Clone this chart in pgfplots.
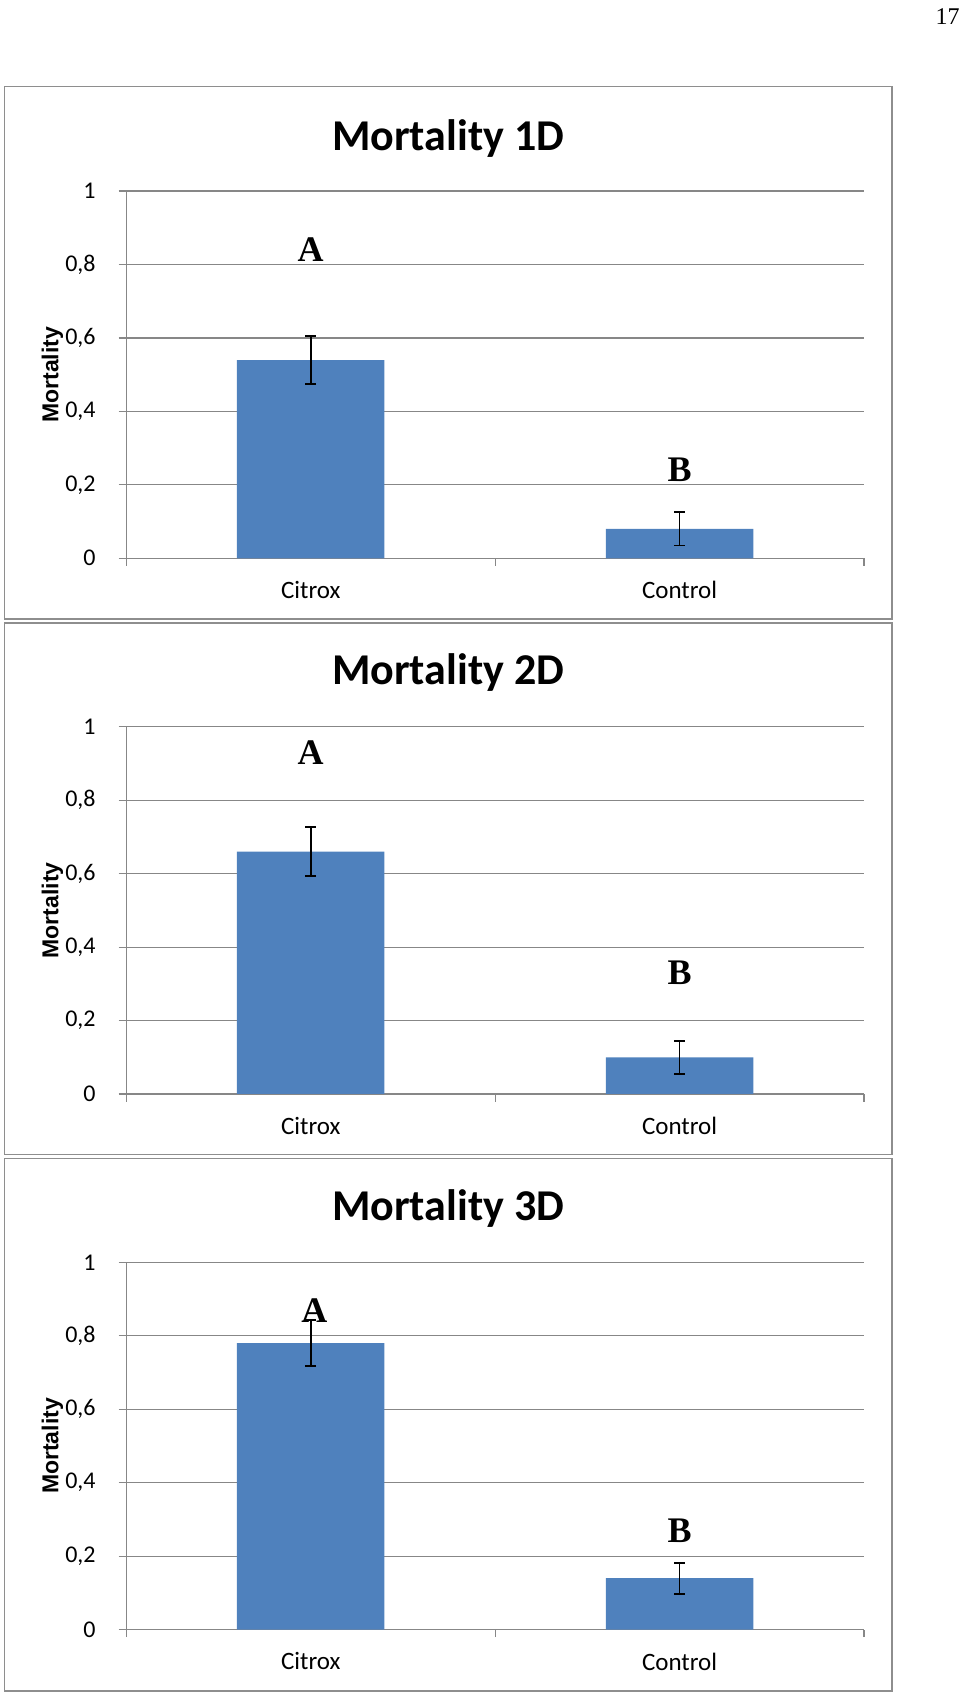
\documentclass[border=0pt]{standalone}
\usepackage{pgfplots}
\pgfplotsset{compat=1.18}
\usepackage{fontspec}
\setmainfont{Carlito}
\newfontfamily\timesf{Liberation Serif}
\newfontfamily\arialf{Liberation Sans}
\definecolor{barblue}{HTML}{4F81BD}
\definecolor{gridgray}{HTML}{878787}
\definecolor{framegray}{HTML}{8E8E8E}

\pgfplotsset{
  mort/.style={
    scale only axis, width=368.85pt, height=183.6pt,
    xmin=0, xmax=2, ymin=0, ymax=1,
    axis lines*=left,
    axis line style={gridgray, line width=0.6pt},
    ymajorgrids, grid style={gridgray, line width=0.6pt},
    tick align=outside, major tick length=3.8pt,
    tick style={gridgray, line width=0.6pt},
    ytick={0,0.2,0.4,0.6,0.8,1},
    yticklabels={0,{0,2},{0,4},{0,6},{0,8},1},
    yticklabel style={font=\fontsize{12}{12}\selectfont, xshift=-8pt},
    xtick={0,1,2}, xticklabels={},
    extra x ticks={0.5,1.5},
    extra x tick labels={Citrox,Control},
    extra x tick style={major tick length=0pt, grid=none,
      xticklabel style={font=\fontsize{12.5}{12.5}\selectfont, yshift=-8pt}},
    ylabel={Mortality},
    every axis y label/.style={at={(axis description cs:-0.1,0.5)}, rotate=90, anchor=center,
      font=\arialf\bfseries\fontsize{11.5}{11.5}\selectfont},
  },
  barplot/.style={ybar, bar width=0.4, fill=barblue, draw=none,
    error bars/.cd, y dir=both, y explicit,
    error bar style={black, line width=0.9pt},
    error mark options={black, rotate=90, mark size=2.7pt, line width=0.9pt}},
}
\tikzset{letter/.style={font=\timesf\bfseries\fontsize{18}{18}\selectfont}}

\begin{document}
\begin{tikzpicture}
\useasboundingbox (0pt,0pt) rectangle (480pt,846.5pt);
% page number
\node[anchor=north east, inner sep=0pt, font=\timesf\fontsize{12}{12}\selectfont] at (480pt,842.5pt) {17};
% panel frames
\draw[framegray, line width=0.8pt] (2.15pt,803.3pt) rectangle (446pt,537.1pt);
\draw[framegray, line width=0.8pt] (2.15pt,535pt) rectangle (446pt,269.3pt);
\draw[framegray, line width=0.8pt] (2.15pt,267.15pt) rectangle (446pt,1pt);
% titles
\node[font=\bfseries\fontsize{22}{22}\selectfont] at (224pt,777.3pt) {Mortality 1D};
\node[font=\bfseries\fontsize{22}{22}\selectfont] at (224pt,510pt) {Mortality 2D};
\node[font=\bfseries\fontsize{22}{22}\selectfont] at (224pt,242.2pt) {Mortality 3D};

% Panel 1
\begin{axis}[mort, at={(63.15pt,567.35pt)}, anchor=south west]
\addplot[barplot] coordinates {(0.5,0.54) +- (0,0.065) (1.5,0.08) +- (0,0.045)};
\node[letter] at (axis cs:0.5,0.84) {A};
\node[letter] at (axis cs:1.5,0.24) {B};
\end{axis}

% Panel 2
\begin{axis}[mort, at={(63.15pt,299.5pt)}, anchor=south west]
\addplot[barplot] coordinates {(0.5,0.66) +- (0,0.067) (1.5,0.10) +- (0,0.045)};
\node[letter] at (axis cs:0.5,0.929) {A};
\node[letter] at (axis cs:1.5,0.329) {B};
\end{axis}

% Panel 3
\begin{axis}[mort, at={(63.15pt,31.7pt)}, anchor=south west]
\addplot[barplot] coordinates {(0.5,0.78) +- (0,0.063) (1.5,0.14) +- (0,0.042)};
\node[letter] at (axis cs:0.51,0.87) {A};
\node[letter] at (axis cs:1.5,0.27) {B};
\end{axis}
\end{tikzpicture}
\end{document}
